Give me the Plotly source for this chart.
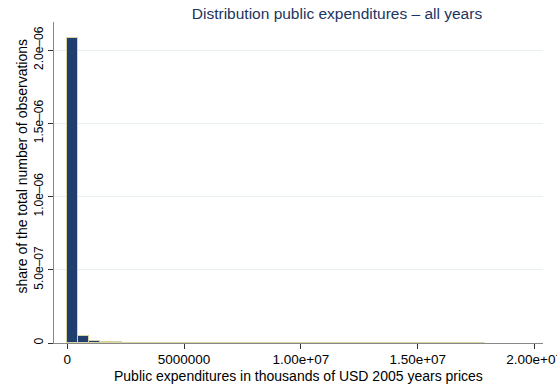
import plotly.graph_objects as go

bin_width = 470000
bin_start = 0
densities = [
    2.08e-6, 4.8e-8, 1.6e-8, 5e-9, 4e-9, 0, 3e-9, 3e-9, 2e-9, 2e-9,
    0, 0, 0, 0, 0, 0, 0, 2e-9, 0, 0,
    0, 2e-9, 2e-9, 0, 0, 2e-9, 2e-9, 0, 2e-9, 0,
    0, 0, 0, 0, 0, 0, 0, 2e-9,
]
x_centers = [bin_start + bin_width * (i + 0.5) for i in range(len(densities))]

y_tickvals = [0, 5e-7, 1e-6, 1.5e-6, 2e-6]
y_ticktext = ["0", "5.0e\u201307", "1.0e\u201306", "1.5e\u201306", "2.0e\u201306"]
x_tickvals = [0, 5e6, 1e7, 1.5e7, 2e7]
x_ticktext = ["0", "5000000", "1.00e+07", "1.50e+07", "2.00e+07"]

fig = go.Figure()
fig.add_trace(go.Bar(
    x=x_centers, y=densities, width=bin_width,
    marker=dict(color="#213f6e", line=dict(color="#d9d4a4", width=1)),
    hoverinfo="x+y",
))

font = "Liberation Sans, Arial, sans-serif"
fig.update_layout(
    width=557, height=385,
    margin=dict(l=54, r=14, t=22, b=42),
    paper_bgcolor="white", plot_bgcolor="white",
    showlegend=False,
    bargap=0,
    font=dict(family=font, size=12, color="black"),
    title=dict(text="Distribution public expenditures \u2013 all years",
               x=0.605, xanchor="center", y=0.966, yanchor="middle",
               font=dict(family=font, size=15.5, color="#1c3560")),
    xaxis=dict(range=[-564800, 2.036e7], tickvals=x_tickvals, ticktext=x_ticktext,
               showgrid=False, zeroline=False, showline=True, linecolor="#888888",
               linewidth=1, ticks="outside", ticklen=5, tickcolor="#333333",
               tickfont=dict(size=13.5), automargin=False, ticklabeloverflow="allow",
               ticklabelstandoff=-1),
    yaxis=dict(range=[0, 2.192e-6], tickvals=y_tickvals, ticktext=y_ticktext,
               tickangle=-90, showgrid=True, gridcolor="#e8f0f2", gridwidth=1,
               zeroline=False, showline=True, linecolor="#888888", linewidth=1,
               ticks="outside", ticklen=5, tickcolor="#333333",
               tickfont=dict(size=12), automargin=False),
    annotations=[
        dict(text="Public expenditures in thousands of USD 2005 years prices",
             xref="paper", yref="paper", x=0.5, y=-0.104, xanchor="center",
             yanchor="middle", showarrow=False, font=dict(size=14)),
        dict(text="share of the total number of observations",
             xref="paper", yref="paper", x=-0.0654, y=0.55, xanchor="center",
             yanchor="middle", textangle=-90, showarrow=False, font=dict(size=14)),
    ],
)

fig.write_html("out.html")
